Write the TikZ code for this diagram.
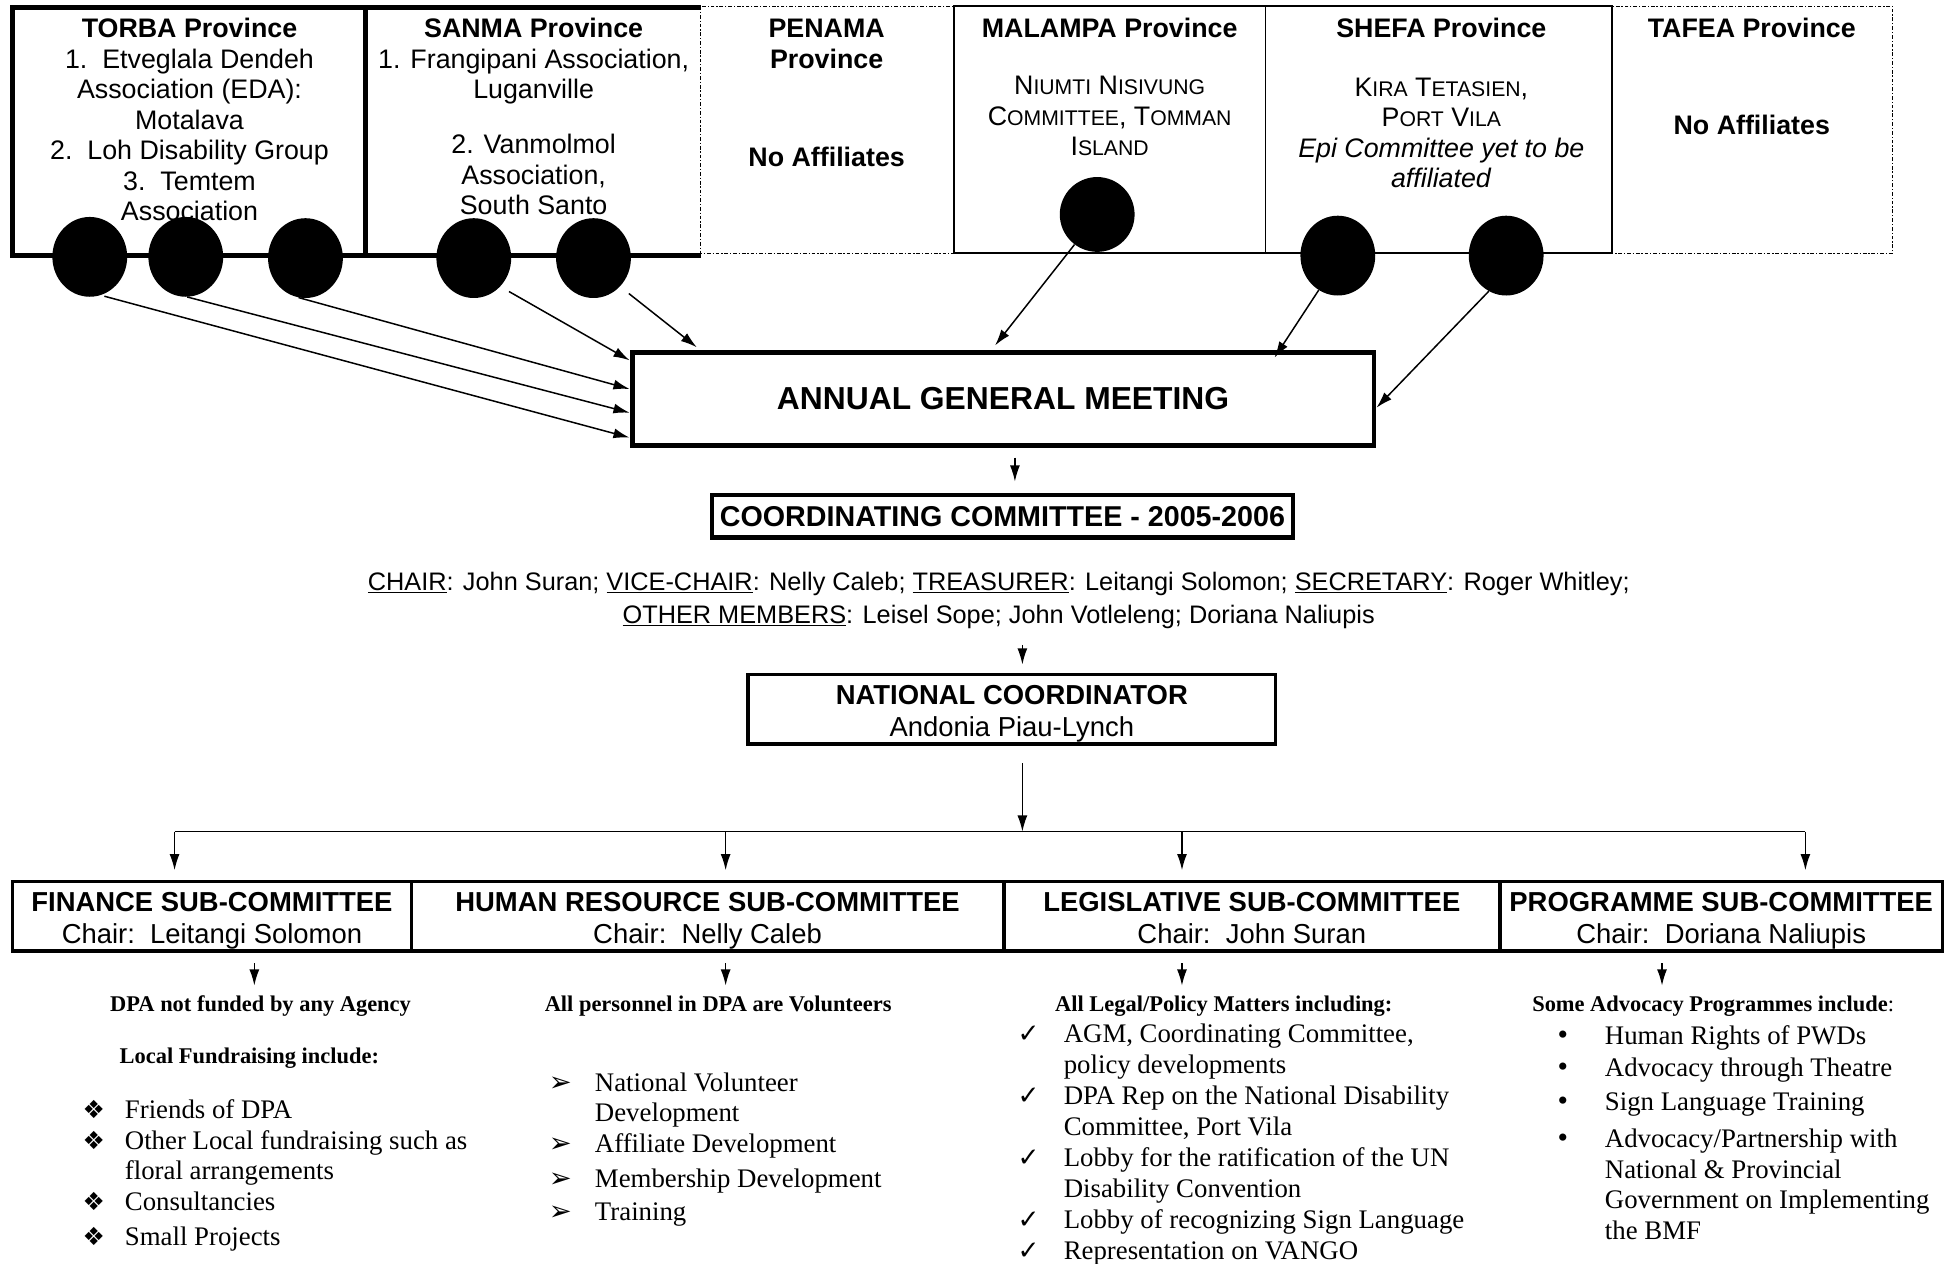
\documentclass[tikz,border=0pt]{standalone}
\usepackage{fontspec}
\setmainfont{Liberation Serif}
\setsansfont{Liberation Sans}
\newfontfamily\symfont{DejaVu Sans}
\usetikzlibrary{arrows.meta,calc,shapes.geometric}
\newcommand\smc[1]{{\fontsize{17}{17}\selectfont #1}}
\newcommand\bx[2]{\makebox[#1][l]{#2}}
\newcommand\dia{\smash{\symfont\fontsize{20}{20}\selectfont ❖}}
\newcommand\arh{\smash{\symfont\fontsize{22}{22}\selectfont ➢}}
\newcommand\chk{\smash{\symfont\fontsize{21}{21}\selectfont ✓}}
\newcommand\dotb{\smash{\fontsize{24}{24}\selectfont •}}
\newcommand\tup{\rule{0pt}{24pt}}
\newcommand\tdn{\rule[-6pt]{0pt}{0pt}}
\begin{document}
\begin{tikzpicture}[x=1pt,y=-1pt,
  sf/.style={font=\sffamily\fontsize{21.5}{24.5}\selectfont, align=center, inner sep=0pt},
  sfb/.style={font=\sffamily\bfseries\fontsize{21.5}{24.5}\selectfont, align=center, inner sep=0pt},
  rmlist/.style={font=\rmfamily\fontsize{21.5}{24.5}\selectfont, align=left, inner sep=0pt, anchor=north west},
  rmhead/.style={font=\rmfamily\bfseries\fontsize{18}{22}\selectfont, inner sep=0pt},
  sbox/.style={draw, line width=3pt, inner sep=0pt, align=center, minimum height=56pt, font=\sffamily\fontsize{22}{26}\selectfont},
  blob/.style={ellipse, fill=black, minimum width=60pt, minimum height=64pt, inner sep=0pt},
  arr/.style={-{Latex[length=13pt,width=8pt]}, line width=1.2pt},
  dotbox/.style={line width=0.9pt, dash pattern=on 3pt off 1.5pt on 1pt off 1.5pt},
  solbox/.style={line width=1.3pt},
  thk/.style={line width=3.5pt}
]
\fill[white] (0,0) rectangle (1568,1013);
\useasboundingbox (0,0) rectangle (1568,1013);

% ---- top row frames
\draw[dotbox] (562,5) rectangle (765,203);
\draw[dotbox] (1293,5) rectangle (1518,203);
\draw[solbox] (765,5) rectangle (1293,203);
\draw[solbox] (1015,5) -- (1015,203);
\draw[thk] (562,6) -- (10,6) -- (10,205) -- (562,205);
\draw[thk] (293,6) -- (293,205);

% ---- province texts
\node[sf] (torba) at (152,96) {\textbf{TORBA Province}\\1.\ \ Etveglala Dendeh\\Association (EDA):\\Motalava\\2.\ \ Loh Disability Group\\3.\ \ Temtem\\Association};
\node[sf] (sanma) at (428,93.5) {\textbf{SANMA Province}\\1. Frangipani Association,\\Luganville\\[19.5pt]2. Vanmolmol\\Association,\\South Santo};
\node[sfb] (penamat) at (663,35) {PENAMA\\Province};
\node[sfb] (penamana) at (663,126) {No Affiliates};
\node[sfb] (malampat) at (890,22) {MALAMPA Province};
\node[sf] (malampab) at (890,93) {N\smc{IUMTI} N\smc{ISIVUNG}\\C\smc{OMMITTEE}, T\smc{OMMAN}\\I\smc{SLAND}};
\node[sfb] (shefat) at (1156,22) {SHEFA Province};
\node[sf] (shefab) at (1156,106.5) {K\smc{IRA} T\smc{ETASIEN},\\P\smc{ORT} V\smc{ILA}\\\textit{Epi Committee yet to be}\\\textit{affiliated}};
\node[sfb] (tafeat) at (1405,22) {TAFEA Province};
\node[sfb] (tafeana) at (1405,100) {No Affiliates};

% ---- affiliate blobs
\node[blob] (c1) at (72,206) {};
\node[blob] (c2) at (149,206) {};
\node[blob] (c3) at (245,207) {};
\node[blob] (c4) at (380,207) {};
\node[blob] (c5) at (476,207) {};
\node[blob, minimum height=60pt] (c6) at (880,172) {};
\node[blob] (c7) at (1073,205) {};
\node[blob] (c8) at (1208,205) {};

% ---- AGM
\node[draw, line width=4pt, minimum width=595pt, minimum height=74pt, inner sep=0pt,
      font=\sffamily\bfseries\fontsize{25.5}{30}\selectfont] (agm) at (804.5,320) {ANNUAL GENERAL MEETING};

\draw[arr, shorten <=3pt] (c1.-74) -- (agm.west |- 0,351);
\draw[arr] (c2.-88) -- (agm.west |- 0,331);
\draw[arr] (c3.-100) -- (agm.west |- 0,312);
\draw[arr, shorten <=8pt] (c4.-47) -- (agm.west |- 0,289);
\draw[arr, shorten <=9pt, shorten >=4pt] (c5.-47) -- (agm.north -| 562,0);
\draw[arr, shorten >=5pt] (c6.-127) -- (agm.north -| 795,0);
\draw[arr, shorten >=-7pt] (c7.-119) -- (agm.north -| 1026,0);
\draw[arr] (c8.-116) -- (agm.east |- 0,327);

% ---- coordinating committee
\node[draw, line width=3.5pt, minimum width=466pt, minimum height=34pt, inner sep=0pt,
      font=\sffamily\bfseries\fontsize{23}{26}\selectfont] (cc) at (804,414) {COORDINATING COMMITTEE - 2005-2006};
\draw[arr, shorten <=8pt, shorten >=9pt] (agm.south -| 814,0) -- (cc.north -| 814,0);

\node[sf, font=\sffamily\fontsize{20.3}{26}\selectfont] (members) at (801,481.5)
  {\underline{CHAIR}: John Suran; \underline{VICE-CHAIR}: Nelly Caleb; \underline{TREASURER}: Leitangi Solomon; \underline{SECRETARY}: Roger Whitley;\\
   \underline{OTHER MEMBERS}: Leisel Sope; John Votleleng; Doriana Naliupis};

% ---- national coordinator
\node[draw, line width=3pt, minimum width=423pt, minimum height=56pt, inner sep=0pt, align=center,
      font=\sffamily\fontsize{22}{26}\selectfont] (nc) at (811.5,569) {\tup\textbf{NATIONAL COORDINATOR}\\Andonia Piau-Lynch\tdn};
\draw[arr, shorten <=13pt, shorten >=6.5pt] (members.south -| 820,0) -- (nc.north -| 820,0);

% ---- sub-committees
\node[sbox, minimum width=320pt] (fin) at (170,735) {\tup\textbf{FINANCE SUB-COMMITTEE}\\Chair:\ \ Leitangi Solomon\tdn};
\node[sbox, minimum width=475pt] (hr) at (567.5,735) {\tup\textbf{HUMAN RESOURCE SUB-COMMITTEE}\\Chair:\ \ Nelly Caleb\tdn};
\node[sbox, minimum width=398pt] (leg) at (1004,735) {\tup\textbf{LEGISLATIVE SUB-COMMITTEE}\\Chair:\ \ John Suran\tdn};
\node[sbox, minimum width=355pt] (prog) at (1380.5,735) {\tup\textbf{PROGRAMME SUB-COMMITTEE}\\Chair:\ \ Doriana Naliupis\tdn};

% ---- distribution bus
\coordinate (busL) at (140,667);
\coordinate (busH) at (582,667);
\coordinate (busM) at (820,667);
\coordinate (busG) at (948,667);
\coordinate (busR) at (1448,667);
\draw[line width=1.2pt] (busL) -- (busR);
\draw[arr, shorten <=13.5pt] (nc.south -| busM) -- (busM);
\draw[arr] (busL) -- ($(busL |- fin.north)+(0,-7.5)$);
\draw[arr] (busH) -- ($(busH |- hr.north)+(0,-7.5)$);
\draw[arr] (busG) -- ($(busG |- leg.north)+(0,-7.5)$);
\draw[arr] (busR) -- ($(busR |- prog.north)+(0,-7.5)$);

% ---- arrows to details
\draw[arr] ($(fin.south -| 204,0)+(0,8)$) -- ($(fin.south -| 204,0)+(0,26)$);
\draw[arr] ($(hr.south -| 582,0)+(0,8)$) -- ($(hr.south -| 582,0)+(0,26)$);
\draw[arr] ($(leg.south -| 948,0)+(0,8)$) -- ($(leg.south -| 948,0)+(0,26)$);
\draw[arr] ($(prog.south -| 1333,0)+(0,8)$) -- ($(prog.south -| 1333,0)+(0,26)$);

% ---- details
\node[rmhead] (finh1) at (209,807) {DPA not funded by any Agency};
\node[rmhead] (finh2) at (200,849) {Local Fundraising include:};
\node[rmhead] (hrh) at (576,807) {All personnel in DPA are Volunteers};
\node[rmhead] (legh) at (981.5,807) {All Legal/Policy Matters including:};
\node[rmhead] (progh) at (1374,807) {Some Advocacy Programmes include\textmd{:}};

\node[rmlist] (finl) at (66,882) {\bx{34pt}{\dia}Friends of DPA\\
\bx{34pt}{\dia}Other Local fundraising such as\\
\hspace*{34pt}floral arrangements\\
\bx{34pt}{\dia}Consultancies\\[3.5pt]
\bx{34pt}{\dia}Small Projects};

\node[rmlist] (hrl) at (440,860) {\bx{37pt}{\arh}National Volunteer\\
\hspace*{37pt}Development\\
\bx{37pt}{\arh}Affiliate Development\\[3.5pt]
\bx{37pt}{\arh}Membership Development\\[2.5pt]
\bx{37pt}{\arh}Training};

\node[rmlist, font=\rmfamily\fontsize{21.5}{24.9}\selectfont] (legl) at (816,821) {\bx{37pt}{\chk}AGM, Coordinating Committee,\\
\hspace*{37pt}policy developments\\
\bx{37pt}{\chk}DPA Rep on the National Disability\\
\hspace*{37pt}Committee, Port Vila\\
\bx{37pt}{\chk}Lobby for the ratification of the UN\\
\hspace*{37pt}Disability Convention\\
\bx{37pt}{\chk}Lobby of recognizing Sign Language\\
\bx{37pt}{\chk}Representation on VANGO};

\node[rmlist] (progl) at (1249,822) {\bx{38pt}{\dotb}Human Rights of PWDs\\[1.5pt]
\bx{38pt}{\dotb}Advocacy through Theatre\\[2.5pt]
\bx{38pt}{\dotb}Sign Language Training\\[5.5pt]
\bx{38pt}{\dotb}Advocacy/Partnership with\\
\hspace*{38pt}National \& Provincial\\
\hspace*{38pt}Government on Implementing\\
\hspace*{38pt}the BMF};
\end{tikzpicture}
\end{document}
